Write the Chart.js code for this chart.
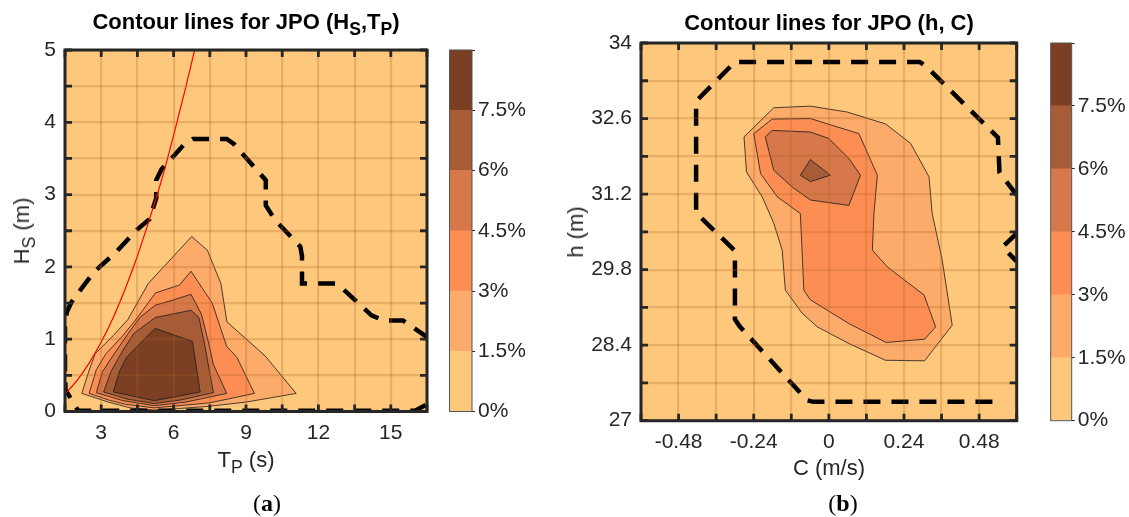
<!DOCTYPE html>
<html>
<head>
<meta charset="utf-8">
<title>Contour lines for JPO</title>
<script src="https://cdn.jsdelivr.net/npm/chart.js@4.4.1/dist/chart.umd.min.js"></script>
<style>
  body { margin: 0; background: #fff; }
  #page { position: relative; width: 1129px; height: 517px; overflow: hidden;
          font-family: 'Liberation Sans', Arial, Helvetica, sans-serif; color: #262626; }
  canvas { position: absolute; top: 0; }
  .lbl { position: absolute; white-space: nowrap; line-height: 1; }
  .lbl sub { font-size: 0.8em; vertical-align: -0.32em; line-height: 0; }
  .title { font-weight: bold; font-size: 22px; color: #000; transform: translateX(-50%); }
  .axt { font-size: 22px; transform: translateX(-50%); }
  .yt { font-size: 22px; transform: translate(-50%, -50%) rotate(-90deg); }
  .cap { font-family: 'Liberation Serif', 'Times New Roman', serif; font-size: 24px; color: #000; transform: translateX(-50%); }
</style>
</head>
<body>
<div id="page">
  <canvas id="mainA" width="440" height="480" style="left:0px;width:440px;height:480px"></canvas>
  <canvas id="barA" width="110" height="480" style="left:440px;width:110px;height:480px"></canvas>
  <canvas id="mainB" width="480" height="480" style="left:560px;width:480px;height:480px"></canvas>
  <canvas id="barB" width="89" height="480" style="left:1040px;width:89px;height:480px"></canvas>

  <div class="lbl title" style="left:246px;top:11px">Contour lines for JPO (H<sub>S</sub>,T<sub>P</sub>)</div>
  <div class="lbl axt" style="left:246px;top:449px">T<sub>P</sub> (s)</div>
  <div class="lbl yt" style="left:22px;top:231px">H<sub>S</sub> (m)</div>
  <div class="lbl cap" style="left:267px;top:491px">(<b>a</b>)</div>

  <div class="lbl title" style="left:829px;top:12px">Contour lines for JPO (h, C)</div>
  <div class="lbl axt" style="left:829px;top:457px">C (m/s)</div>
  <div class="lbl yt" style="left:576px;top:232px">h (m)</div>
  <div class="lbl cap" style="left:843px;top:491px">(<b>b</b>)</div>
</div>

<script>
const FONT = "'Liberation Sans', Arial, Helvetica, sans-serif";
const INK = '#262626';

// probability bands (%) and their colours
const levels = [0, 1.5, 3, 4.5, 6, 7.5, 9];
const levelTicks = [0, 1.5, 3, 4.5, 6, 7.5];
const bandColors = ['#FEC87C', '#FDAB6A', '#FC8E54', '#D67849', '#A75C38', '#7B3F24'];

// (a) Hs vs Tp
const tpTicks = [3, 6, 9, 12, 15];
const hsTicks = [0, 1, 2, 3, 4, 5];

const hsTp15 = [[2.2, 0.25], [2.45, 0.52], [2.75, 0.8], [3.5, 1.05], [4.1, 1.27], [4.95, 1.77], [6.75, 2.42],
  [7.4, 2.23], [7.96, 1.77], [8.21, 1.24], [9.79, 0.77], [11.08, 0.25], [9.0, 0.13], [7.4, 0.07],
  [6.2, 0.04], [5.2, 0.02], [4.2, 0.05], [3.3, 0.13]];
const hsTp30 = [[2.5, 0.25], [2.8, 0.58], [3.2, 0.8], [3.9, 1.05], [4.5, 1.3], [5.25, 1.64], [6.25, 1.75],
  [6.72, 1.94], [7.2, 1.7], [7.6, 1.5], [7.95, 1.15], [8.2, 0.9], [8.62, 0.75], [9.35, 0.25],
  [7.5, 0.12], [6.2, 0.08], [5.2, 0.05], [4.0, 0.1], [3.3, 0.16]];
const hsTp45 = [[2.8, 0.26], [3.05, 0.55], [3.5, 0.78], [4.1, 1.07], [4.6, 1.3], [5.24, 1.47], [5.95, 1.54],
  [6.72, 1.62], [7.15, 1.35], [7.45, 0.95], [7.65, 0.65], [8.2, 0.25], [6.5, 0.13], [5.2, 0.08], [3.9, 0.15]];
const hsTp60 = [[3.1, 0.27], [3.4, 0.55], [3.85, 0.82], [4.35, 1.08], [5.24, 1.3], [6.72, 1.4], [7.05, 1.3],
  [7.3, 0.9], [7.65, 0.26], [6.3, 0.16], [5.2, 0.11], [4.1, 0.17]];
const hsTp75 = [[3.5, 0.27], [3.75, 0.55], [4.05, 0.75], [5.23, 1.15], [6.78, 0.97], [7.1, 0.27], [5.2, 0.15]];

// outermost contour, dashed
const hsTpOuter = [[16.45, 0.09], [16.0, 0.01], [2.05, 0.01], [1.52, 0.3], [1.5, 0.6], [1.5, 1.25], [1.58, 1.38],
  [1.78, 1.52], [2.7, 1.93], [3.6, 2.2], [4.5, 2.52], [5.0, 2.66], [5.28, 2.95], [5.28, 3.2], [5.5, 3.35],
  [6.4, 3.68], [6.8, 3.77], [8.2, 3.77], [8.5, 3.7], [9.82, 3.2], [9.82, 2.85], [10.2, 2.65], [11.25, 2.28],
  [11.32, 2.15], [11.32, 1.77], [12.7, 1.77], [13.0, 1.7], [14.2, 1.33], [14.7, 1.26], [15.5, 1.26], [16.5, 1.03]];

// wave breaking (steepness) limit
const steepLimit = [[1.5, 0.24], [2, 0.43], [2.5, 0.67], [3, 0.96], [3.5, 1.3], [4, 1.7], [4.5, 2.15],
  [5, 2.66], [5.5, 3.2], [6, 3.82], [6.5, 4.48], [6.87, 5.0]];

// (b) h vs C
const cTicks = [-0.48, -0.24, 0, 0.24, 0.48];
const hTicks = [27, 28.4, 29.8, 31.2, 32.6, 34];

const hC15 = [[-0.271, 32.26], [-0.176, 32.8], [-0.059, 32.83], [0.059, 32.72], [0.181, 32.5], [0.261, 32.14],
  [0.32, 31.52], [0.33, 30.84], [0.362, 29.98], [0.394, 28.77], [0.306, 28.11], [0.181, 28.12], [0.064, 28.43],
  [-0.037, 28.74], [-0.085, 28.99], [-0.139, 29.42], [-0.149, 30.16], [-0.176, 30.66], [-0.213, 31.15], [-0.263, 31.61]];
const hC30 = [[-0.24, 32.32], [-0.181, 32.59], [-0.059, 32.6], [0.096, 32.32], [0.155, 31.55], [0.144, 30.84],
  [0.139, 30.16], [0.187, 29.85], [0.304, 29.33], [0.341, 28.74], [0.306, 28.51], [0.183, 28.45], [0.064, 28.8],
  [-0.059, 29.24], [-0.08, 29.42], [-0.091, 30.84], [-0.165, 31.15], [-0.218, 31.58]];
const hC45 = [[-0.203, 32.26], [-0.181, 32.38], [-0.059, 32.35], [0, 32.23], [0.064, 31.86], [0.101, 31.55],
  [0.064, 30.99], [-0.059, 31.09], [-0.117, 31.33], [-0.176, 31.64]];
const hC60 = [[-0.059, 31.84], [0.005, 31.55], [-0.059, 31.43], [-0.091, 31.55]];

const hCOuter = [[0.6, 31.18], [0.545, 31.6], [0.54, 32.25], [0.31, 33.57], [0.29, 33.65], [-0.3, 33.65],
  [-0.424, 32.92], [-0.424, 30.85], [-0.3, 30.15], [-0.3, 28.88], [-0.285, 28.75], [-0.07, 27.38],
  [-0.05, 27.35], [0.53, 27.35], [0.555, 27.42]];
const hCOuterRight = [[0.6, 30.47], [0.555, 30.22], [0.6, 29.95]];

function pts(arr) { return arr.map(p => ({ x: p[0], y: p[1] })); }

function band(arr, level, order) {
  return {
    data: pts(arr.concat([arr[0]])), showLine: true, fill: 'shape', order,
    backgroundColor: bandColors[levels.indexOf(level)],
    borderColor: '#1a1a1a', borderWidth: 0.8, pointRadius: 0
  };
}

function dashed(arr) {
  return {
    data: pts(arr), showLine: true, fill: false, order: 0,
    borderColor: '#000', borderWidth: 4.5, borderDash: [17, 11], borderCapStyle: 'butt',
    pointRadius: 0
  };
}

function axis(min, max, step, labels, fit) {
  return {
    type: 'linear', min, max,
    ticks: {
      stepSize: step, autoSkip: false, maxRotation: 0, padding: 9, color: INK,
      font: { family: FONT, size: 21 },
      callback: v => {
        const hit = labels.find(l => Math.abs(l - v) < step / 10);
        return hit === undefined ? '' : String(hit);
      }
    },
    grid: { z: 1, color: 'rgba(175, 95, 35, 0.26)', lineWidth: 2.2, drawTicks: false },
    border: { display: false },
    afterFit: fit
  };
}

// plot background, inner tick marks and the box
const frame = {
  id: 'frame',
  beforeDatasetsDraw(chart) {
    const { ctx, chartArea: a } = chart;
    ctx.save();
    ctx.fillStyle = bandColors[0];
    ctx.fillRect(a.left, a.top, a.width, a.height);
    ctx.restore();
  },
  afterDraw(chart) {
    const { ctx, chartArea: a, scales } = chart;
    ctx.save();
    ctx.strokeStyle = INK;
    ctx.lineWidth = 2.8;
    ctx.beginPath();
    scales.x.ticks.forEach(t => {
      const px = scales.x.getPixelForValue(t.value);
      ctx.moveTo(px, a.bottom); ctx.lineTo(px, a.bottom - 7);
      ctx.moveTo(px, a.top); ctx.lineTo(px, a.top + 7);
    });
    scales.y.ticks.forEach(t => {
      const py = scales.y.getPixelForValue(t.value);
      ctx.moveTo(a.left, py); ctx.lineTo(a.left + 7, py);
      ctx.moveTo(a.right, py); ctx.lineTo(a.right - 7, py);
    });
    ctx.stroke();
    ctx.lineWidth = 3;
    ctx.strokeRect(a.left, a.top, a.width, a.height);
    ctx.restore();
  }
};

const outline = {
  id: 'outline',
  afterDraw(chart) {
    const { ctx, chartArea: a } = chart;
    ctx.save();
    ctx.strokeStyle = '#555';
    ctx.lineWidth = 1;
    ctx.strokeRect(a.left, a.top, a.width, a.height);
    ctx.restore();
  }
};

function contourChart(id, datasets, xAxis, yAxis, padding) {
  return new Chart(document.getElementById(id), {
    type: 'scatter',
    data: { datasets },
    options: {
      responsive: false, animation: false, events: [],
      layout: { padding },
      plugins: { legend: { display: false }, tooltip: { enabled: false } },
      scales: { x: xAxis, y: yAxis }
    },
    plugins: [frame]
  });
}

function colorbar(id, padding, axisWidth) {
  return new Chart(document.getElementById(id), {
    type: 'bar',
    data: {
      labels: [''],
      datasets: bandColors.map((c, i) => ({
        data: [[levels[i], levels[i + 1]]], backgroundColor: c, borderWidth: 0,
        grouped: false, barPercentage: 1, categoryPercentage: 1
      }))
    },
    options: {
      responsive: false, animation: false, events: [],
      layout: { padding },
      plugins: { legend: { display: false }, tooltip: { enabled: false } },
      scales: {
        x: { display: false },
        y: {
          position: 'right', min: levels[0], max: levels[levels.length - 1],
          ticks: {
            stepSize: 1.5, padding: 3, color: INK, font: { family: FONT, size: 21 },
            callback: v => levelTicks.includes(v) ? v + '%' : ''
          },
          grid: { drawOnChartArea: false, tickLength: 3, color: INK },
          border: { display: false },
          afterFit: s => { s.width = axisWidth; }
        }
      }
    },
    plugins: [outline]
  });
}

contourChart('mainA', [
  { data: pts(steepLimit), showLine: true, fill: false, order: 0, borderColor: '#ff0000', borderWidth: 1.2,
    cubicInterpolationMode: 'monotone', pointRadius: 0 },
  dashed(hsTpOuter),
  band(hsTp75, 7.5, 1),
  band(hsTp60, 6, 2),
  band(hsTp45, 4.5, 3),
  band(hsTp30, 3, 4),
  band(hsTp15, 1.5, 5)
],
  axis(1.5, 16.5, 1.5, tpTicks, s => { s.height = 68.5; }),
  axis(0, 5, 0.5, hsTicks, s => { s.width = 65; }),
  { top: 50, right: 13, left: 0, bottom: 0 });

colorbar('barA', { left: 9.5, top: 50, bottom: 68.5, right: 0 }, 78);

contourChart('mainB', [
  dashed(hCOuter),
  dashed(hCOuterRight),
  band(hC60, 6, 1),
  band(hC45, 4.5, 2),
  band(hC30, 3, 3),
  band(hC15, 1.5, 4)
],
  axis(-0.6, 0.6, 0.12, cTicks, s => { s.height = 59.3; }),
  axis(27, 34, 0.7, hTicks, s => { s.width = 81; }),
  { top: 43, right: 23.3, left: 0, bottom: 0 });

colorbar('barB', { left: 10.7, top: 43, bottom: 59.3, right: 0 }, 57.3);
</script>
</body>
</html>
